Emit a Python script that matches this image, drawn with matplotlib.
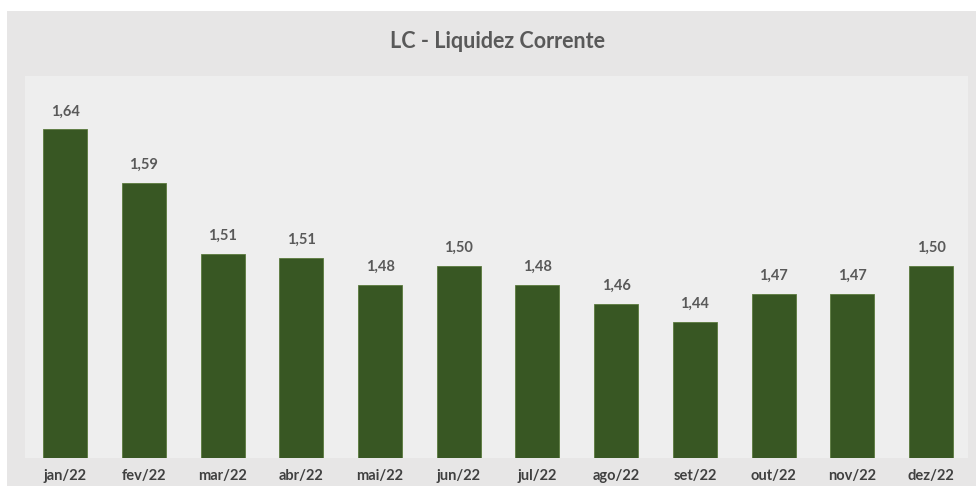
import matplotlib.pyplot as plt
from matplotlib.patches import Rectangle

# data
months = ['jan/22', 'fev/22', 'mar/22', 'abr/22', 'mai/22', 'jun/22',
          'jul/22', 'ago/22', 'set/22', 'out/22', 'nov/22', 'dez/22']
lc_values = [1.644, 1.588, 1.514, 1.509, 1.481, 1.501,
             1.481, 1.461, 1.442, 1.472, 1.472, 1.501]

plt.rcParams['font.family'] = ['Lato', 'DejaVu Sans']

fig = plt.figure(figsize=(9.76, 4.86), dpi=100, facecolor='#e7e6e6')

# white strips at the top and left edge of the screenshot
fig.patches.append(Rectangle((0, 1 - 11 / 486), 1, 11 / 486,
                             transform=fig.transFigure, facecolor='white',
                             edgecolor='none', zorder=-10))
fig.patches.append(Rectangle((0, 0), 7 / 976, 1,
                             transform=fig.transFigure, facecolor='white',
                             edgecolor='none', zorder=-10))

ax = fig.add_axes([25 / 976, 28 / 486, (968 - 25) / 976, (458 - 76) / 486])
ax.set_facecolor('#eeeeee')

x = range(len(months))
bars = ax.bar(x, lc_values, width=0.56, bottom=0, color='#385723',
              edgecolor='#5b7a3d', linewidth=0.6)

for xi, v in zip(x, lc_values):
    ax.annotate(f'{v:.2f}'.replace('.', ','), (xi, v), xytext=(0, 8),
                textcoords='offset points', ha='center', va='bottom',
                fontsize=10.5, fontweight='bold', color='#595959')

ax.set_xlim(-0.51, 11.47)
ax.set_ylim(1.30, 1.70)
ax.set_xticks(list(x))
ax.set_xticklabels(months, fontsize=10.5, fontweight='bold', color='#404040')
ax.tick_params(axis='x', length=0, pad=8)
ax.set_yticks([])
for s in ax.spines.values():
    s.set_visible(False)

fig.text(498 / 976, 1 - 42 / 486, 'LC - Liquidez Corrente', ha='center', va='center',
         fontsize=15.5, fontweight='bold', color='#595959')

fig.savefig('out.png', dpi=100, facecolor=fig.get_facecolor())
